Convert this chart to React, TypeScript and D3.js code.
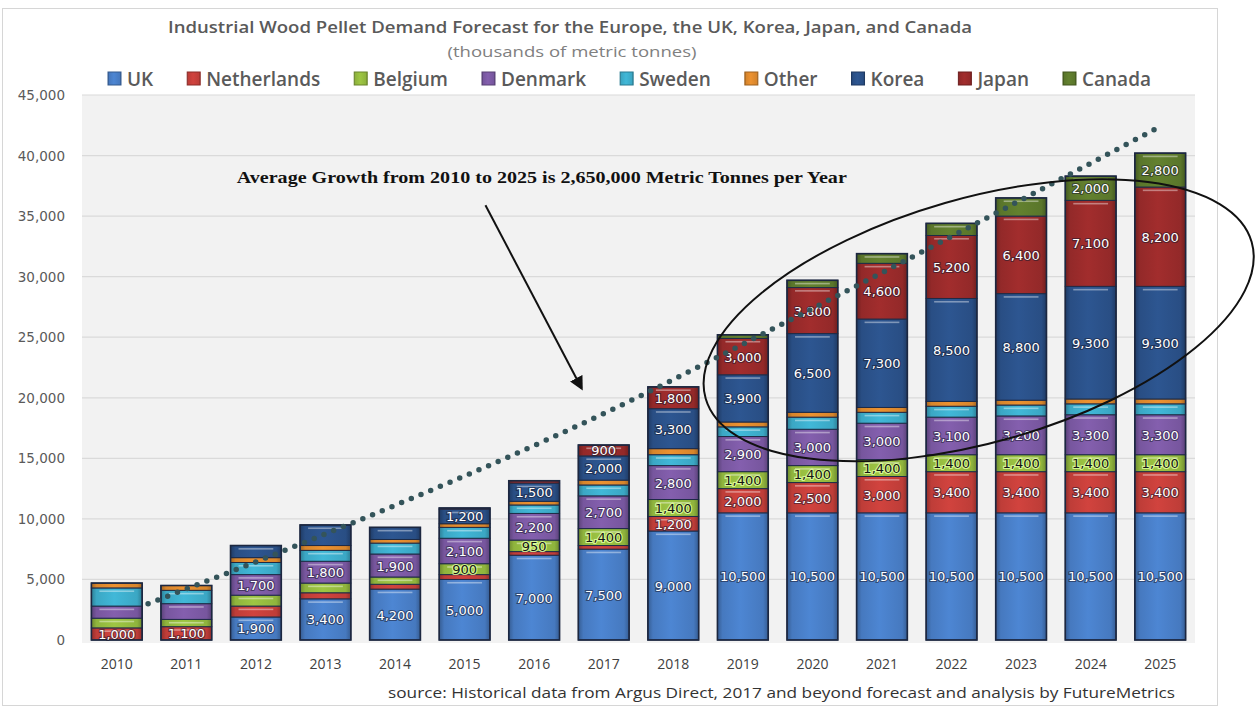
import React, { useMemo } from 'react';
import * as d3 from 'd3';

// ---------------- DATA ----------------
const years = [2010, 2011, 2012, 2013, 2014, 2015, 2016, 2017, 2018, 2019, 2020, 2021, 2022, 2023, 2024, 2025];
const seriesNames = ['UK', 'Netherlands', 'Belgium', 'Denmark', 'Sweden', 'Other', 'Korea', 'Japan', 'Canada'];

const ukValues = [0, 0, 1900, 3400, 4200, 5000, 7000, 7500, 9000, 10500, 10500, 10500, 10500, 10500, 10500, 10500];
const netherlandsValues = [1000, 1100, 900, 500, 400, 400, 300, 300, 1200, 2000, 2500, 3000, 3400, 3400, 3400, 3400];
const belgiumValues = [800, 600, 900, 800, 600, 900, 950, 1400, 1400, 1400, 1400, 1400, 1400, 1400, 1400, 1400];
const denmarkValues = [1000, 1300, 1700, 1800, 1900, 2100, 2200, 2700, 2800, 2900, 3000, 3000, 3100, 3200, 3300, 3300];
const swedenValues = [1500, 1100, 1000, 900, 900, 900, 700, 900, 900, 800, 1000, 900, 900, 900, 900, 900];
const otherValues = [400, 400, 400, 400, 300, 300, 300, 400, 500, 400, 400, 400, 400, 400, 400, 400];
const koreaValues = [0, 0, 1000, 1700, 1000, 1200, 1500, 2000, 3300, 3900, 6500, 7300, 8500, 8800, 9300, 9300];
const japanValues = [0, 0, 0, 0, 0, 100, 200, 900, 1800, 3000, 3800, 4600, 5200, 6400, 7100, 8200];
const canadaValues = [0, 0, 0, 0, 0, 0, 0, 0, 0, 300, 600, 800, 1000, 1500, 2000, 2800];

const seriesValues = [ukValues, netherlandsValues, belgiumValues, denmarkValues, swedenValues, otherValues, koreaValues, japanValues, canadaValues];

// which segments carry a printed value label
const labelFromYear = [2012, 2018, 2015, 2012, null, null, 2015, 2017, 2024];
const extraLabelYears: Record<string, number[]> = { Netherlands: [2010, 2011] };

const yTicks = [0, 5000, 10000, 15000, 20000, 25000, 30000, 35000, 40000, 45000];

// hand-drawn dotted growth line (year, value)
const trendYears = [2010.45, 2012.5, 2017.4, 2019.4, 2025.0];
const trendValues = [3000, 7600, 19800, 25600, 42400];

const titleText = 'Industrial Wood Pellet Demand Forecast for the Europe, the UK, Korea, Japan, and Canada';
const subtitleText = '(thousands of metric tonnes)';
const annotationText = 'Average Growth from 2010 to 2025 is 2,650,000 Metric Tonnes per Year';
const sourceText = 'source: Historical data from Argus Direct, 2017 and beyond forecast and analysis by FutureMetrics';

// ---------------- STYLE ----------------
const seriesColors = ['#4a80ca', '#c8403b', '#97be40', '#7e5ba7', '#3eb0cf', '#e38c2e', '#2b528b', '#9b2b2b', '#5f7c2d'];
const W = 1258;
const H = 709;

function measure(text: string, font: string): number {
  if (typeof document === 'undefined') return text.length * 9;
  const c = document.createElement('canvas');
  const ctx = c.getContext('2d');
  if (!ctx) return text.length * 9;
  ctx.font = font;
  return ctx.measureText(text).width;
}

export default function App() {
  const x = d3.scaleBand<string>().domain(years.map(String)).range([82, 1195]).paddingInner(0.27).paddingOuter(0.135);
  const y = d3.scaleLinear().domain([0, 45000]).range([640, 95]);
  const bw = x.bandwidth();
  const step = x.step();
  const xc = (yr: number) => (x(String(years[0])) as number) + bw / 2 + (yr - years[0]) * step;

  const table = years.map((yr, i) => {
    const row: any = { year: yr };
    seriesNames.forEach((s, j) => (row[s] = seriesValues[j][i]));
    return row;
  });
  const stacked = d3.stack<any>().keys(seriesNames)(table);
  const fmt = d3.format(',');

  const shouldLabel = (sIdx: number, yr: number) => {
    const name = seriesNames[sIdx];
    if (extraLabelYears[name] && extraLabelYears[name].includes(yr)) return true;
    const from = labelFromYear[sIdx];
    return from !== null && yr >= (from as number);
  };

  const trendLine = d3
    .line<number>()
    .x((_, i) => xc(trendYears[i]))
    .y((v) => y(v))
    .curve(d3.curveMonotoneX)(trendValues) as string;

  // legend layout
  const legendFont = '600 19px "Open Sans"';
  const legend = useMemo(() => {
    const widths = seriesNames.map((s) => measure(s, legendFont));
    const sq = 13;
    const gapIn = 6;
    const totalItems = widths.reduce((a, w) => a + sq + gapIn + w, 0);
    const span = 1151 - 108;
    const gap = (span - totalItems) / (seriesNames.length - 1);
    let cx = 108;
    return seriesNames.map((s, i) => {
      const item = { name: s, x: cx, tx: cx + sq + gapIn, color: seriesColors[i] };
      cx += sq + gapIn + widths[i] + gap;
      return item;
    });
  }, []);

  const arrowStart = { year: 2015.3, value: 35900 };
  const arrowEnd = { year: 2016.68, value: 20800 };
  const annPos = { year: 2016.11, value: 37700 };
  const ell = { year: 2022.39, value: 26400 };

  return (
    <svg width={W} height={H} style={{ position: 'absolute', left: 0, top: 0, background: '#fff' }}>
      <defs>
        {seriesColors.map((c, i) => {
          const base = d3.color(c)!;
          return (
            <linearGradient key={i} id={`g${i}`} x1="0" x2="1" y1="0" y2="0">
              <stop offset="0%" stopColor={base.darker(0.9).toString()} />
              <stop offset="10%" stopColor={base.darker(0.15).toString()} />
              <stop offset="45%" stopColor={base.brighter(0.12).toString()} />
              <stop offset="90%" stopColor={base.darker(0.15).toString()} />
              <stop offset="100%" stopColor={base.darker(0.9).toString()} />
            </linearGradient>
          );
        })}
        <marker id="arrow" viewBox="0 0 10 10" refX="8" refY="5" markerWidth="7" markerHeight="7" orient="auto">
          <path d="M0,0 L10,5 L0,10 z" fill="#111" />
        </marker>
      </defs>

      <rect x={2.5} y={8.5} width={1215} height={697} fill="#fff" stroke="#d6d6d6" />

      {/* title */}
      <text x={570} y={33} textAnchor="middle" fontFamily="'Open Sans', sans-serif" fontWeight={600} fontSize={16} fill="#5a5a5a" textLength={804} lengthAdjust="spacingAndGlyphs">
        {titleText}
      </text>
      <text x={572} y={57} textAnchor="middle" fontFamily="'Open Sans', sans-serif" fontSize={15} fill="#808080" textLength={249} lengthAdjust="spacingAndGlyphs">
        {subtitleText}
      </text>

      {/* legend */}
      {legend.map((l, i) => (
        <g key={l.name}>
          <rect x={l.x} y={72} width={13} height={13} fill={`url(#g${i})`} stroke={d3.color(l.color)!.darker(1).toString()} strokeWidth={1} />
          <text x={l.tx} y={86} fontFamily="'Open Sans', sans-serif" fontWeight={600} fontSize={19} fill="#5a5a5a">
            {l.name}
          </text>
        </g>
      ))}

      {/* plot area */}
      <rect x={82} y={95} width={1113} height={548} fill="#f2f2f2" />
      {yTicks.map((t) => (
        <g key={t}>
          {t > 0 && <line x1={82} x2={1195} y1={y(t)} y2={y(t)} stroke="#dadada" strokeWidth={1.2} />}
          <text x={65} y={y(t) + 5} textAnchor="end" fontFamily="'DejaVu Sans', sans-serif" fontSize={13.5} fill="#5a5a5a">
            {fmt(t)}
          </text>
        </g>
      ))}

      {/* bars */}
      {years.map((yr, i) => {
        const total = stacked[stacked.length - 1][i][1];
        const bx = x(String(yr)) as number;
        return (
          <g key={yr}>
            {stacked.map((layer, sIdx) => {
              const d = layer[i];
              const y0 = y(d[0]);
              const y1 = y(d[1]);
              const h = y0 - y1;
              if (h <= 0) return null;
              return (
                <g key={sIdx}>
                  <rect x={bx} y={y1} width={bw} height={h} fill={`url(#g${sIdx})`} stroke="#1f2b46" strokeWidth={1} />
                  {h > 7 && <rect x={bx + 8} y={y1 + 2.5} width={bw - 16} height={1.6} fill="#ffffff" opacity={0.4} />}
                </g>
              );
            })}
            <rect x={bx} y={y(total)} width={bw} height={y(0) - y(total)} fill="none" stroke="#1c2740" strokeWidth={1.6} />
            {stacked.map((layer, sIdx) => {
              const d = layer[i];
              const v = d[1] - d[0];
              if (v <= 0 || !shouldLabel(sIdx, yr)) return null;
              const cy = (y(d[0]) + y(d[1])) / 2;
              const isBelgium = seriesNames[sIdx] === 'Belgium';
              return (
                <text
                  key={`l${sIdx}`}
                  x={bx + bw / 2}
                  y={cy + 5}
                  textAnchor="middle"
                  fontFamily="'DejaVu Sans', sans-serif"
                  fontSize={13}
                  fill={isBelgium ? '#141414' : '#ffffff'}
                  stroke={isBelgium ? 'rgba(225,255,160,0.85)' : 'rgba(25,25,45,0.55)'}
                  strokeWidth={2.2}
                  paintOrder="stroke"
                >
                  {fmt(v)}
                </text>
              );
            })}
          </g>
        );
      })}

      {/* x labels */}
      {years.map((yr) => (
        <text key={yr} x={(x(String(yr)) as number) + bw / 2} y={669} textAnchor="middle" fontFamily="'Open Sans', sans-serif" fontSize={14} fill="#404040">
          {yr}
        </text>
      ))}

      {/* dotted growth line */}
      <path d={trendLine} fill="none" stroke="#34545a" strokeWidth={5.5} strokeDasharray="0 10.5" strokeLinecap="round" />

      {/* ellipse */}
      <ellipse
        cx={xc(ell.year)}
        cy={y(ell.value)}
        rx={284}
        ry={122}
        transform={`rotate(-16 ${xc(ell.year)} ${y(ell.value)})`}
        fill="none"
        stroke="#111"
        strokeWidth={2}
      />

      {/* annotation */}
      <text x={xc(annPos.year)} y={y(annPos.value)} textAnchor="middle" fontFamily="'Liberation Serif', 'Times New Roman', serif" fontWeight="bold" fontSize={17} fill="#111" textLength={610} lengthAdjust="spacingAndGlyphs">
        {annotationText}
      </text>
      <line x1={xc(arrowStart.year)} y1={y(arrowStart.value)} x2={xc(arrowEnd.year)} y2={y(arrowEnd.value)} stroke="#111" strokeWidth={2} markerEnd="url(#arrow)" />

      {/* source */}
      <text x={1175} y={698} textAnchor="end" fontFamily="'Open Sans', sans-serif" fontSize={15} fill="#333" textLength={787} lengthAdjust="spacingAndGlyphs">
        {sourceText}
      </text>
    </svg>
  );
}
